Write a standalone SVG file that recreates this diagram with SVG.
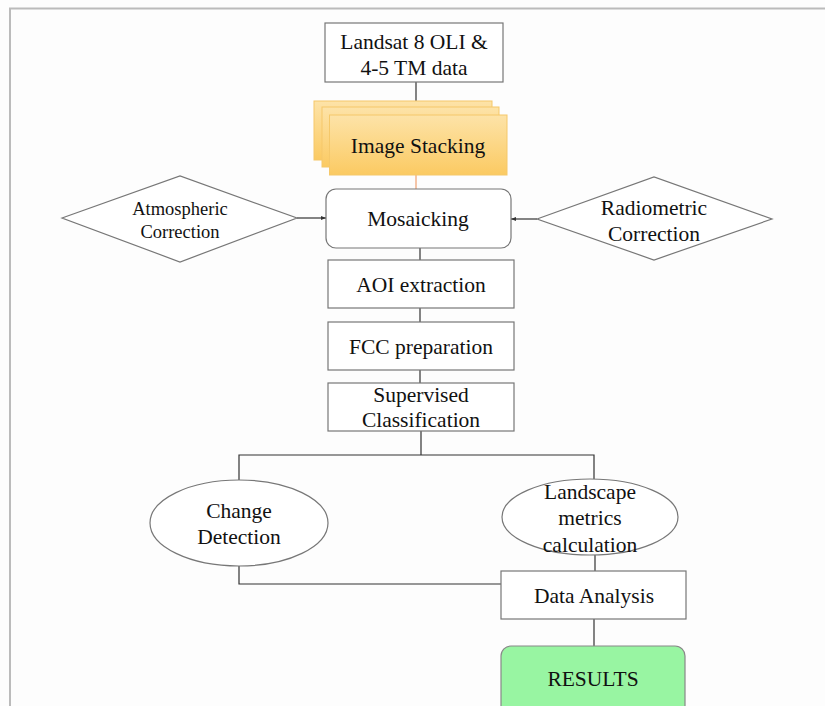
<svg xmlns="http://www.w3.org/2000/svg" width="825" height="706" viewBox="0 0 825 706">
<style>
text{font-family:"Liberation Serif","Times New Roman",serif;font-size:21.5px;fill:#111;text-anchor:middle}
.s{font-size:18.5px}
.b{fill:#fff;stroke:#777;stroke-width:1.2}
.c{fill:none;stroke:#333;stroke-width:1.2}
.st{fill:url(#g);stroke:#f5c86a;stroke-width:1}
</style>
<defs>
<linearGradient id="g" x1="0" y1="0" x2="0" y2="1">
<stop offset="0" stop-color="#fde3a8"/>
<stop offset="1" stop-color="#fbca62"/>
</linearGradient>
<marker id="a" markerWidth="6" markerHeight="6" refX="5" refY="3" orient="auto" markerUnits="userSpaceOnUse">
<path d="M0,1 L5,3 L0,5 z" fill="#333"/>
</marker>
</defs>
<rect x="0" y="0" width="825" height="706" fill="#fdfdfd"/>
<path d="M10,706 V8.5 H825" fill="none" stroke="#bbb" stroke-width="2"/>
<g id="connectors">
<path class="c" d="M416,82 V101"/>
<path d="M416,175 V189" fill="none" stroke="#f0a070" stroke-width="1.2"/>
<path class="c" d="M297,218 H326" marker-end="url(#a)"/>
<path class="c" d="M537,219 H511" marker-end="url(#a)"/>
<path class="c" d="M420,248 V260"/>
<path class="c" d="M420,308 V322"/>
<path class="c" d="M420,370 V383"/>
<path class="c" d="M421,431 V455 M239,480 V455 H594 V479"/>
<path class="c" d="M595,555 V571"/>
<path class="c" d="M239,566 V584 H501"/>
<path class="c" d="M594,619 V646"/>
</g>
<g id="landsat"><rect class="b" x="325" y="23" width="178" height="59"/><text x="414" y="49">Landsat 8 OLI &amp;</text><text x="414" y="75">4-5 TM data</text></g>
<g id="stacking">
<rect class="st" x="314" y="101" width="178" height="59"/>
<rect class="st" x="322" y="107" width="177" height="60"/>
<rect class="st" x="329.5" y="115" width="177.5" height="60"/>
<text x="418" y="153">Image Stacking</text></g>
<g id="mosaicking"><rect class="b" x="326" y="189" width="185" height="59" rx="10"/><text x="418" y="226">Mosaicking</text></g>
<g id="atmospheric"><polygon class="b" points="62,218 180,176 297,218 180,262"/><text class="s" x="180" y="215">Atmospheric</text><text class="s" x="180" y="238">Correction</text></g>
<g id="radiometric"><polygon class="b" points="537,219 654,177 772,219 654,260"/><text x="654" y="215">Radiometric</text><text x="654" y="241">Correction</text></g>
<g id="aoi"><rect class="b" x="328" y="260" width="186" height="48"/><text x="421" y="292">AOI extraction</text></g>
<g id="fcc"><rect class="b" x="328" y="322" width="186" height="48"/><text x="421" y="354">FCC preparation</text></g>
<g id="supervised"><rect class="b" x="328" y="383" width="186" height="48"/><text x="421" y="402">Supervised</text><text x="421" y="427">Classification</text></g>
<g id="change"><ellipse class="b" cx="239" cy="523" rx="89" ry="43"/><text x="239" y="518">Change</text><text x="239" y="544">Detection</text></g>
<g id="landscape"><ellipse class="b" cx="590" cy="517" rx="88" ry="38"/><text x="590" y="499">Landscape</text><text x="590" y="525">metrics</text><text x="590" y="552">calculation</text></g>
<g id="analysis"><rect class="b" x="501" y="571" width="185" height="48"/><text x="594" y="603">Data Analysis</text></g>
<g id="results"><rect x="501" y="646" width="184" height="70" rx="10" fill="#98f5a2" stroke="#888" stroke-width="1.2"/><text x="593" y="686">RESULTS</text></g>
</svg>
